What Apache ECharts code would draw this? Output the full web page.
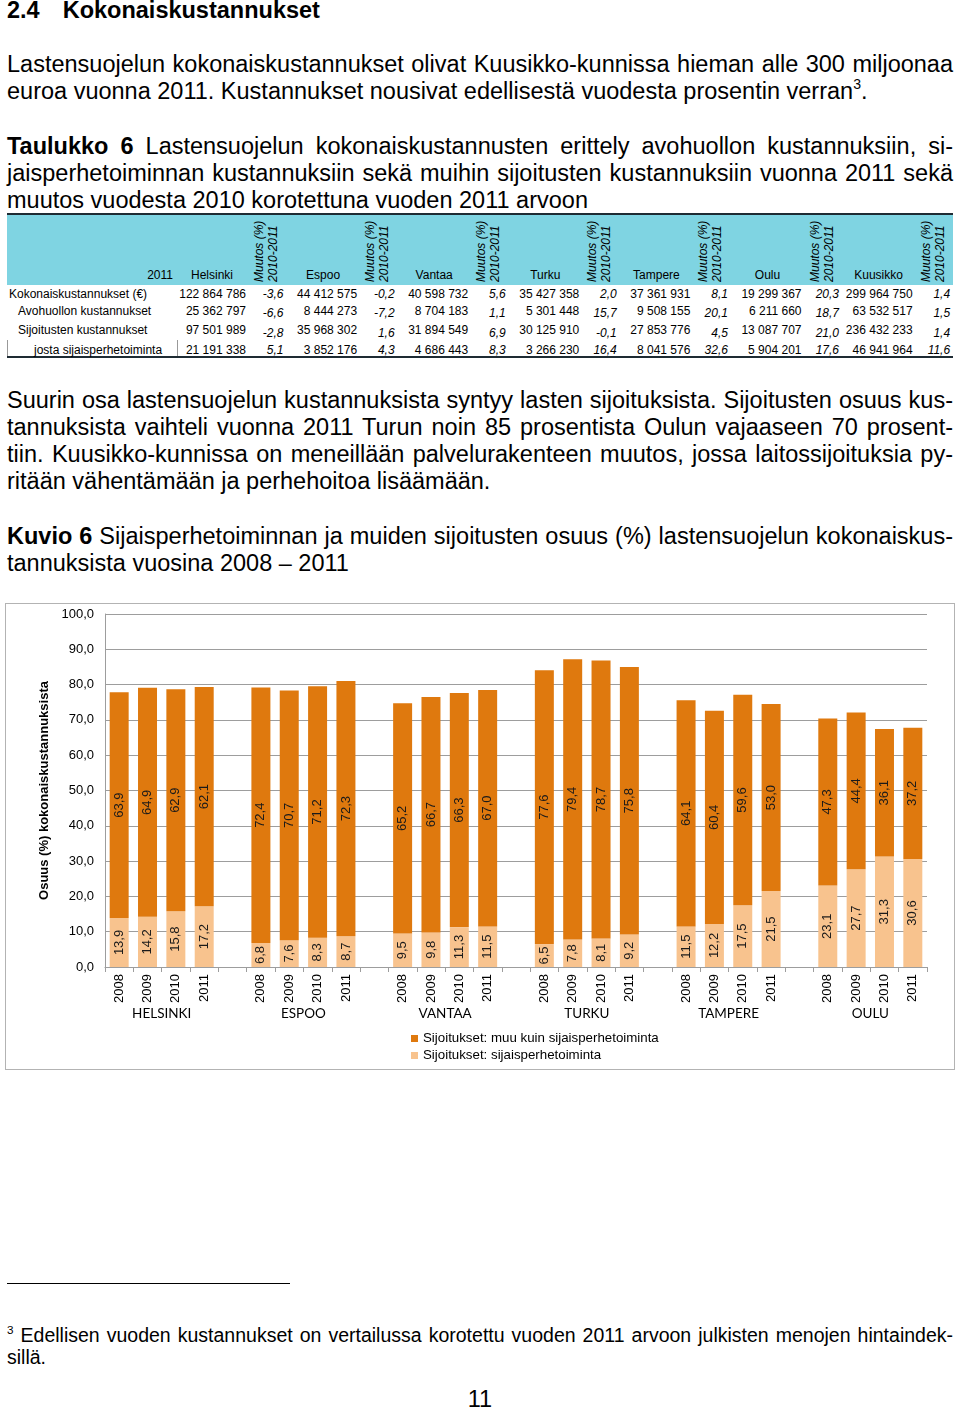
<!DOCTYPE html>
<html><head><meta charset="utf-8">
<script src="https://cdn.jsdelivr.net/npm/echarts@6.0.0/dist/echarts.min.js"></script>
<style>
html,body{margin:0;padding:0;background:#fff;}
#page{position:relative;width:960px;height:1412px;overflow:hidden;font-family:"Liberation Sans",Arial,sans-serif;color:#000;}
.ln{position:absolute;left:7px;width:946px;font-size:23.5px;line-height:27px;white-space:nowrap;}
.j{text-align:justify;text-align-last:justify;white-space:normal;}
.fn{font-size:19.5px;line-height:22px;}
sup{font-size:60%;line-height:0;vertical-align:0.7em;}
.t{position:absolute;font-size:12px;line-height:14px;white-space:nowrap;}
.r{text-align:right;}
.c{text-align:center;}
.i{font-style:italic;}
.rot{position:absolute;width:72px;height:28px;font-size:12px;line-height:14px;font-style:italic;transform-origin:0 0;transform:rotate(-90deg);white-space:nowrap;}
#chart{position:absolute;left:6px;top:604px;width:948px;height:465px;outline:1.5px solid #b3b3b3;}
</style></head>
<body><div id="page">
<div class="ln" style="top:-3px;font-weight:bold;">2.4<span style="margin-left:23px;">Kokonaiskustannukset</span></div>
<div class="ln j" style="top:51px;">Lastensuojelun kokonaiskustannukset olivat Kuusikko-kunnissa hieman alle 300 miljoonaa</div>
<div class="ln" style="top:78px;">euroa vuonna 2011. Kustannukset nousivat edellisestä vuodesta prosentin verran<sup>3</sup>.</div>
<div class="ln j" style="top:133px;"><b>Taulukko 6</b> Lastensuojelun kokonaiskustannusten erittely avohuollon kustannuksiin, si-</div>
<div class="ln j" style="top:160px;">jaisperhetoiminnan kustannuksiin sekä muihin sijoitusten kustannuksiin vuonna 2011 sekä</div>
<div class="ln" style="top:187px;">muutos vuodesta 2010 korotettuna vuoden 2011 arvoon</div>
<div id="table"></div>
<div class="ln j" style="top:387px;">Suurin osa lastensuojelun kustannuksista syntyy lasten sijoituksista. Sijoitusten osuus kus-</div>
<div class="ln j" style="top:414px;">tannuksista vaihteli vuonna 2011 Turun noin 85 prosentista Oulun vajaaseen 70 prosent-</div>
<div class="ln j" style="top:441px;">tiin. Kuusikko-kunnissa on meneillään palvelurakenteen muutos, jossa laitossijoituksia py-</div>
<div class="ln" style="top:468px;">ritään vähentämään ja perhehoitoa lisäämään.</div>
<div class="ln j" style="top:523px;"><b>Kuvio 6</b> Sijaisperhetoiminnan ja muiden sijoitusten osuus (%) lastensuojelun kokonaiskus-</div>
<div class="ln" style="top:550px;">tannuksista vuosina 2008 – 2011</div>
<div id="chart"></div>
<div style="position:absolute;left:7px;top:1283px;width:283px;height:1px;background:#000;"></div>
<div class="ln j fn" style="top:1324px;"><sup>3</sup> Edellisen vuoden kustannukset on vertailussa korotettu vuoden 2011 arvoon julkisten menojen hintaindek-</div>
<div class="ln fn" style="top:1346px;">sillä.</div>
<div class="ln" style="top:1386px;left:0;width:960px;text-align:center;">11</div>
</div>
<script>
// ---------- Table data (Taulukko 6) ----------
const tableCities = ['Helsinki','Espoo','Vantaa','Turku','Tampere','Oulu','Kuusikko'];
const rowLabels = ['Kokonaiskustannukset (€)','Avohuollon kustannukset','Sijoitusten kustannukset','josta sijaisperhetoiminta'];
const totalCosts = ['122 864 786','44 412 575','40 598 732','35 427 358','37 361 931','19 299 367','299 964 750'];
const totalChange = ['-3,6','-0,2','5,6','2,0','8,1','20,3','1,4'];
const openCareCosts = ['25 362 797','8 444 273','8 704 183','5 301 448','9 508 155','6 211 660','63 532 517'];
const openCareChange = ['-6,6','-7,2','1,1','15,7','20,1','18,7','1,5'];
const placementCosts = ['97 501 989','35 968 302','31 894 549','30 125 910','27 853 776','13 087 707','236 432 233'];
const placementChange = ['-2,8','1,6','6,9','-0,1','4,5','21,0','1,4'];
const fosterCosts = ['21 191 338','3 852 176','4 686 443','3 266 230','8 041 576','5 904 201','46 941 964'];
const fosterChange = ['5,1','4,3','8,3','16,4','32,6','17,6','11,6'];

// ---------- Chart data (Kuvio 6) ----------
const cities = ['HELSINKI','ESPOO','VANTAA','TURKU','TAMPERE','OULU'];
const years = ['2008','2009','2010','2011'];
const yTicks = [0,10,20,30,40,50,60,70,80,90,100];
// Sijoitukset: sijaisperhetoiminta (%)
const fosterShare = [
  [13.9,14.2,15.8,17.2],
  [6.8,7.6,8.3,8.7],
  [9.5,9.8,11.3,11.5],
  [6.5,7.8,8.1,9.2],
  [11.5,12.2,17.5,21.5],
  [23.1,27.7,31.3,30.6]
];
// Sijoitukset: muu kuin sijaisperhetoiminta (%)
const otherShare = [
  [63.9,64.9,62.9,62.1],
  [72.4,70.7,71.2,72.3],
  [65.2,66.7,66.3,67.0],
  [77.6,79.4,78.7,75.8],
  [64.1,60.4,59.6,53.0],
  [47.3,44.4,36.1,37.2]
];
const seriesNames = ['Sijoitukset: muu kuin sijaisperhetoiminta','Sijoitukset: sijaisperhetoiminta'];

// ---------- Build table ----------
(function(){
  const T = document.getElementById('table');
  let h = '';
  h += '<div style="position:absolute;left:7px;top:213px;width:946px;height:2px;background:#1e2b33;"></div>';
  h += '<div style="position:absolute;left:7px;top:215px;width:946px;height:70px;background:#7fd4e2;"></div>';
  h += '<div style="position:absolute;left:7px;top:356px;width:946px;height:2px;background:#1e2b33;"></div>';
  h += '<div style="position:absolute;left:7px;top:340px;width:1px;height:16px;background:#999;"></div>';
  h += '<div style="position:absolute;left:177px;top:340px;width:1px;height:16px;background:#999;"></div>';
  const step = 111.1;
  h += '<div class="t r" style="left:100px;width:73px;top:268px;">2011</div>';
  tableCities.forEach((c,k)=>{
    h += '<div class="t c" style="left:'+(212+step*k-40)+'px;width:80px;top:268px;">'+c+'</div>';
    h += '<div class="rot" style="left:'+(266+step*k-14)+'px;top:282px;">Muutos (%)<br>2010-2011</div>';
  });
  const rowsV = [totalCosts, openCareCosts, placementCosts, fosterCosts];
  const rowsP = [totalChange, openCareChange, placementChange, fosterChange];
  const rowY = [287, 304, 323, 343];
  const pOff = [0, 2, 2.5, 0];
  const labX = [9, 18, 18, 34];
  rowLabels.forEach((lab,r)=>{
    h += '<div class="t" style="left:'+labX[r]+'px;top:'+rowY[r]+'px;">'+lab+'</div>';
    for(let k=0;k<7;k++){
      h += '<div class="t r" style="left:'+(246+step*k-80)+'px;width:80px;top:'+rowY[r]+'px;">'+rowsV[r][k]+'</div>';
      h += '<div class="t r i" style="left:'+(283.5+step*k-40)+'px;width:40px;top:'+(rowY[r]+pOff[r])+'px;">'+rowsP[r][k]+'</div>';
    }
  });
  T.innerHTML = h;
})();

// ---------- Build chart ----------
const categories = [];
const fosterData = [];
const otherData = [];
const cityAxis = [];
cities.forEach((c,g)=>{
  years.forEach((y,i)=>{
    categories.push(y);
    fosterData.push(fosterShare[g][i]);
    otherData.push(otherShare[g][i]);
  });
  if(g < cities.length-1){ categories.push(''); fosterData.push('-'); otherData.push('-'); }
});
for(let i=0;i<=categories.length;i++) cityAxis.push('');
cities.forEach((c,g)=>{ cityAxis[g*5+2] = c; });

const fmt = v => (typeof v === 'number') ? v.toFixed(1).replace('.',',') : '';
const FONT = '"Liberation Sans", Arial, sans-serif';
const labelCfg = {show:true, position:'inside', rotate:90, fontSize:13, color:'#1a1a1a', fontFamily:FONT,
  formatter: p => fmt(p.value)};

const chart = echarts.init(document.getElementById('chart'), null, {renderer:'canvas'});
chart.setOption({
  animation:false,
  textStyle:{fontFamily:FONT},
  grid:{left:99, right:27, top:10, bottom:102, containLabel:false},
  legend:{
    data:[seriesNames[0], seriesNames[1]],
    orient:'vertical', left:405, top:427, padding:0, itemWidth:7, itemHeight:7, itemGap:2,
    icon:'rect', textStyle:{fontSize:13.3, lineHeight:15, color:'#000', fontFamily:FONT}
  },
  xAxis:[{
    type:'category', data:categories, boundaryGap:true,
    axisLine:{show:true, lineStyle:{color:'#9d9d9d', width:1}},
    axisTick:{show:true, interval:0, length:5, lineStyle:{color:'#9d9d9d'}},
    axisLabel:{interval:0, rotate:90, fontSize:13, color:'#000', margin:7, fontFamily:FONT}
  },{
    type:'category', data:cityAxis, boundaryGap:false, position:'bottom',
    axisLine:{show:false}, axisTick:{show:false}, splitLine:{show:false},
    axisLabel:{interval:0, fontSize:13.5, color:'#000', margin:40, fontFamily:'Lato, "Open Sans", sans-serif'}
  }],
  yAxis:{
    type:'value', min:yTicks[0], max:yTicks[yTicks.length-1], interval:yTicks[1]-yTicks[0],
    name:'Osuus (%) kokonaiskustannuksista', nameLocation:'middle', nameGap:41,
    nameTextStyle:{fontSize:13, fontWeight:'bold', color:'#000', fontFamily:FONT},
    axisLine:{show:true, lineStyle:{color:'#9d9d9d'}},
    axisTick:{show:false},
    splitLine:{show:true, lineStyle:{color:'#9d9d9d', width:1}},
    axisLabel:{fontSize:13, color:'#000', margin:11, formatter: v => fmt(v), fontFamily:FONT}
  },
  series:[{
    name:seriesNames[1], type:'bar', stack:'s', data:fosterData, xAxisIndex:0,
    barWidth:'67%', itemStyle:{color:'#f8c38e'}, label:labelCfg
  },{
    name:seriesNames[0], type:'bar', stack:'s', data:otherData, xAxisIndex:0,
    barWidth:'67%', itemStyle:{color:'#df790e'}, label:labelCfg
  }]
});
</script>
</body></html>
